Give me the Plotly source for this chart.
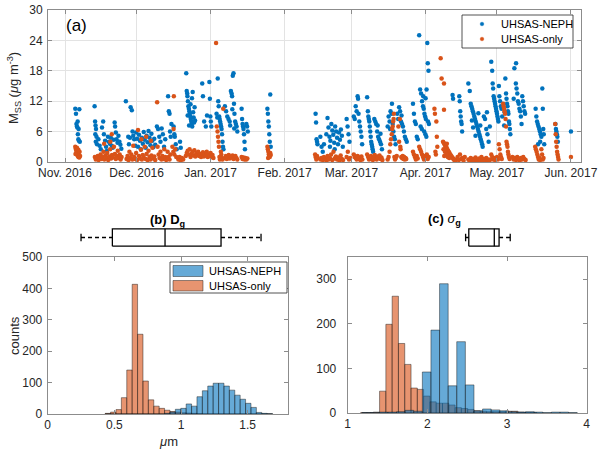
import plotly.graph_objects as go
import pandas as pd

# ---------------- data ----------------
start_date = "2016-11-01"

# (day since start, M_SS) pairs
neph_pts = [
    (4.3,10.5),(4.6,9.5),(4.8,7.5),(5.0,7.0),(5.2,6.8),(5.4,5.5),(5.6,4.5),(5.8,4.2),(6.0,10.4),(5.3,8.0),(5.7,6.5),(6.2,4.0),
    (12.4,11.0),(12.6,8.0),(12.8,7.2),(13.0,6.5),(12.7,5.5),(13.2,5.0),(12.9,4.0),(13.4,3.5),
    (14.0,4.5),(14.5,3.2),(15.0,2.5),(15.5,6.8),(16.0,8.0),(16.3,5.5),(16.8,4.2),(17.2,3.0),(17.6,2.2),(18.0,5.0),
    (18.4,4.0),(18.8,3.6),(19.2,4.8),(19.6,3.2),(20.0,2.8),(20.4,4.4),(20.8,7.8),(21.0,7.0),(21.3,5.8),(21.6,4.5),
    (22.0,3.8),(22.4,5.2),(22.8,4.0),(23.2,3.4),(23.6,2.6),
    (25.5,12.0),(26.5,5.0),(26.8,3.5),(27.2,4.8),(27.5,10.8),(28.0,10.2),(28.3,6.0),(28.6,5.2),(29.0,4.5),(29.4,3.2),
    (29.8,5.8),(30.2,4.6),(30.6,3.0),(31.0,5.4),(31.4,4.2),(31.8,2.5),(32.2,4.8),(32.6,3.6),(33.0,5.9),(33.4,4.4),
    (33.8,2.8),(34.2,5.2),(34.6,3.9),(35.0,6.1),(35.4,4.8),(35.8,3.3),(36.2,5.6),(36.6,4.2),(37.0,2.9),(37.4,4.6),(37.8,3.4),
    (38.5,7.0),(39.0,6.5),(39.5,5.0),(40.0,4.0),(40.5,6.6),(41.0,5.5),(41.5,3.0),(42.0,4.5),
    (43.2,13.0),(43.5,10.0),(43.8,9.5),(44.0,6.0),(44.3,5.0),(44.6,7.5),
    (45.5,7.0),(45.8,5.5),(46.0,5.0),(46.4,3.5),(46.8,2.5),(48.2,4.0),(48.5,2.8),
    (50.8,17.5),(51.0,14.0),(51.2,13.5),(51.3,13.0),(51.5,12.0),(51.7,11.0),(51.9,10.5),(52.1,10.0),(52.3,9.5),(52.5,9.0),
    (52.7,8.5),(52.9,8.0),(53.1,7.5),(53.3,7.0),(53.5,13.8),(53.7,9.8),(53.9,8.8),(54.1,7.8),(54.3,10.8),(54.5,8.2),
    (51.4,9.2),(52.0,7.2),(52.6,11.4),(53.2,12.6),
    (57.5,15.5),(57.8,13.0),(58.3,8.0),(59.0,7.0),(59.5,9.2),
    (60.5,15.8),(60.7,12.5),(60.9,9.0),(61.1,8.0),(61.3,7.0),
    (64.0,16.5),(64.2,12.0),(64.4,11.0),(64.6,9.0),(64.8,8.5),(65.0,8.0),(65.2,7.5),(65.4,7.0),(65.6,6.5),(65.8,5.5),
    (66.0,4.0),(66.2,3.0),(66.4,2.5),(63.5,9.5),(63.8,8.8),
    (67.0,11.0),(67.5,10.0),(68.0,9.0),(68.5,8.5),(69.0,8.0),(69.5,14.0),(69.8,13.5),(70.0,13.0),(70.3,17.0),(70.6,17.5),
    (70.8,11.5),(71.0,9.5),(71.3,8.0),(71.6,7.5),(71.9,7.0),(72.2,6.0),(69.2,7.2),(70.1,10.4),(70.9,6.6),
    (74.0,10.5),(74.2,8.5),(74.4,7.5),(74.6,7.0),(74.8,6.5),(75.0,5.5),(75.2,4.0),(75.4,2.5),
    (76.0,7.5),(76.3,7.0),(76.6,6.0),
    (84.8,10.5),(85.0,9.5),(85.2,8.0),(85.4,7.0),(85.6,5.5),(85.8,4.0),(86.0,13.3),(86.2,3.0),
    (105.0,9.5),(105.2,7.8),(105.4,4.5),(105.6,4.0),(105.8,3.5),
    (107.0,5.0),(107.5,3.0),(108.0,2.0),(108.5,3.5),
    (109.5,5.5),(110.0,8.7),(110.4,6.8),(110.8,5.0),(111.2,4.2),(111.6,7.5),(112.0,6.2),(112.4,5.4),(112.8,3.8),(113.2,7.0),
    (113.6,6.0),(114.0,4.8),(114.4,3.5),(114.8,5.8),(115.2,4.4),(115.6,6.4),(116.0,5.2),(116.4,3.0),(111.0,3.0),(113.0,2.5),
    (118.0,8.5),(118.4,7.0),(118.8,5.5),(119.2,4.0),
    (121.0,9.0),(121.4,8.5),(121.8,11.0),(122.2,10.0),(122.6,13.0),(122.8,12.5),(123.0,9.5),(123.3,8.0),(123.6,7.0),(123.9,6.0),
    (124.2,5.0),(124.5,3.5),
    (126.6,12.8),(126.9,10.0),(127.1,9.0),(127.3,8.5),(127.5,8.0),(127.7,7.0),(127.9,6.0),(128.1,5.0),(128.3,4.0),(128.5,3.5),
    (128.7,3.0),(128.9,2.5),(129.1,2.0),
    (129.6,8.5),(130.0,8.0),(130.4,7.5),(130.8,6.0),(131.2,5.0),(131.6,4.5),(132.0,4.0),(132.4,3.5),(132.8,2.5),(131.0,7.2),(132.2,5.6),
    (135.2,7.0),(135.6,9.0),(136.0,8.0),(136.4,10.0),(136.8,9.5),(137.0,11.5),(137.3,7.5),(137.6,6.0),(137.9,5.0),(138.2,4.5),
    (138.5,3.5),(136.2,6.5),
    (139.2,9.5),(139.6,8.5),(140.0,10.8),(140.4,10.0),(140.8,8.0),(141.2,7.5),(141.6,7.0),(142.0,6.0),(142.4,5.0),(142.8,4.5),
    (143.2,4.0),(141.0,9.2),
    (145.8,11.5),(146.2,9.5),(146.6,8.0),(147.0,7.5),(147.4,5.0),(147.8,4.5),
    (148.4,25.0),(148.8,14.3),(149.2,13.5),(149.6,12.0),(150.0,11.0),(150.3,10.5),(150.6,9.5),(150.9,9.0),(151.2,8.5),(151.5,14.3),
    (151.8,23.5),(152.0,19.5),(152.3,18.0),(152.1,8.0),(152.5,7.5),(149.0,7.0),(149.5,6.5),(150.5,6.0),(151.0,5.5),(151.4,5.0),
    (151.1,12.6),(150.1,13.0),
    (162.4,13.2),(162.6,12.5),
    (165.2,13.0),(165.4,12.0),(165.6,10.0),(165.8,9.0),(166.0,8.0),(166.2,7.5),(166.4,6.0),
    (169.0,15.5),(169.6,14.0),(170.0,11.5),(170.3,11.0),(170.6,10.5),(170.9,10.0),(171.2,9.5),(171.5,9.0),(171.8,8.5),(172.1,8.0),
    (172.4,7.5),(172.7,7.0),(173.0,6.5),(173.3,6.0),(173.6,5.5),(173.9,5.0),(174.2,4.5),(174.5,4.0),(174.8,3.5),(175.0,3.0),
    (170.5,8.2),(171.0,6.8),(172.0,5.2),(173.2,9.6),(174.0,7.2),
    (175.5,9.0),(176.0,8.5),(176.5,6.5),(177.0,5.5),(177.5,4.0),(176.8,9.8),(178.0,7.0),
    (178.6,19.8),(179.0,18.0),(179.2,15.5),(179.4,14.5),(179.6,13.0),(179.8,12.5),(180.0,12.0),(180.2,11.5),(180.4,11.0),(180.6,10.5),
    (180.8,10.0),(181.0,9.5),(181.2,9.0),(181.4,8.5),(181.6,8.0),
    (181.8,15.0),(182.0,13.0),(182.3,12.0),(182.6,11.0),(182.9,10.5),(183.2,9.0),
    (184.5,16.5),(184.8,13.5),(185.0,12.5),(185.2,11.5),(185.4,11.0),(185.6,10.0),(185.8,9.5),(186.0,8.0),(186.2,7.5),(186.4,6.5),
    (186.6,5.5),(184.0,7.2),(184.2,9.8),
    (188.0,12.5),(188.3,18.5),(189.0,19.5),(188.9,15.5),(189.2,14.5),(189.5,13.5),(189.8,12.0),(190.1,11.5),(190.4,10.5),(190.7,10.0),
    (191.0,9.0),(191.3,7.5),
    (191.6,13.0),(191.9,12.0),(192.2,11.0),(192.5,10.0),(192.8,9.5),
    (197.2,10.5),(197.5,9.0),(197.8,8.0),(198.1,7.5),(198.4,7.0),(198.7,6.5),(199.0,6.0),(199.3,5.5),(199.6,5.0),(199.1,4.0),(198.2,3.5),
    (200.0,14.5),(200.2,10.5),(200.4,6.5),(200.6,5.5),(200.8,3.5),
    (205.5,7.5),(205.7,6.5),(205.9,6.0),(206.1,5.5),(206.3,5.0),(206.5,4.0),
    (212.0,6.0),
]

only_pts = [
    (4.3,3.0),(4.5,2.6),(4.7,2.2),(4.9,1.8),(5.1,1.5),(5.3,1.3),(5.5,1.1),(5.7,1.0),(5.9,1.4),(6.1,2.0),(6.3,1.2),(4.4,1.6),(5.0,2.8),(5.6,2.4),(6.0,0.9),
    (12.5,1.0),(12.9,0.5),(13.3,0.7),(13.7,1.2),(14.1,0.4),(14.5,0.8),(14.9,1.5),(15.3,0.6),(15.7,1.0),(16.1,2.0),(16.5,0.5),
    (16.9,1.3),(17.3,0.8),(17.7,1.8),(18.1,0.4),(18.5,1.1),(18.9,2.5),(19.3,0.7),(19.7,1.4),(20.1,0.9),(20.5,3.0),(20.9,1.6),
    (21.3,0.6),(21.7,1.2),(22.1,2.2),(22.5,0.8),(22.9,1.5),(23.3,0.5),(23.7,1.0),(16.4,3.6),(19.0,4.0),(19.6,5.5),
    (25.8,0.6),(26.2,1.2),(26.6,0.4),(27.0,2.0),(27.4,0.8),(27.8,1.5),(28.2,0.5),(28.6,3.2),(29.0,1.0),(29.4,0.6),(29.8,1.8),
    (30.2,0.4),(30.6,6.3),(31.0,1.2),(31.4,0.7),(31.8,2.4),(32.2,0.5),(32.6,1.4),(33.0,0.9),(33.4,3.0),(33.8,0.6),(34.2,1.6),
    (34.6,0.4),(35.0,2.2),(35.4,1.0),(35.8,0.5),(36.2,1.3),(36.6,2.8),(37.0,0.7),(37.4,1.1),(37.8,0.4),(32.0,4.5),(34.0,5.0),(36.0,4.2),
    (38.6,11.8),(38.8,3.0),(39.2,1.5),(39.6,0.8),(40.0,2.0),(40.4,0.5),(40.8,1.2),(41.2,0.6),(41.6,2.5),(42.0,1.0),(42.4,0.4),
    (43.0,2.0),(43.4,1.0),(43.8,0.5),(44.2,1.5),(45.6,13.0),(45.5,6.5),(45.0,3.0),(45.4,2.0),(45.8,1.5),(46.2,2.5),(46.6,1.0),
    (47.5,0.5),(48.0,1.0),(48.5,0.3),(49.0,0.8),(49.5,0.5),
    (50.6,1.2),(51.0,1.8),(51.4,2.2),(51.8,1.5),(52.2,2.5),(52.6,1.0),(53.0,1.6),(53.4,2.0),(53.8,1.3),(54.2,2.3),(54.6,1.1),
    (55.0,1.7),(55.4,1.4),(55.8,2.0),(56.2,1.2),(56.6,1.6),(57.0,1.0),
    (57.4,1.4),(57.8,1.9),(58.2,1.1),(58.6,1.6),(59.0,1.3),(59.4,2.0),(59.8,1.0),(60.2,1.5),(60.6,1.2),(61.0,1.8),(61.4,1.0),
    (61.8,1.4),(62.2,0.8),
    (63.3,23.5),
    (63.6,7.0),(63.9,6.0),(64.1,5.0),(64.3,4.0),(64.5,3.0),(64.7,1.0),(64.9,0.5),(66.3,10.5),(65.3,2.0),(65.5,1.5),(65.7,0.8),(66.0,0.5),
    (67.0,0.8),(67.4,1.2),(67.8,0.6),(68.2,1.0),(68.6,1.4),(69.0,0.7),(69.4,1.1),(69.8,0.9),(70.2,1.3),(70.6,0.6),(71.0,1.0),
    (71.4,1.2),(71.8,0.8),(72.2,0.5),
    (74.0,1.0),(74.4,0.6),(74.8,0.9),(75.2,0.5),(75.6,0.8),(76.0,0.5),(76.4,0.7),
    (84.8,3.0),(85.0,2.5),(85.2,2.0),(85.4,1.5),(85.6,1.2),(85.8,1.0),(86.0,1.8),(86.2,1.4),(85.1,0.8),
    (104.8,1.5),(105.0,1.0),(105.3,0.5),(105.6,1.2),(105.9,0.8),
    (107.0,0.5),(107.5,0.8),(108.0,0.4),(108.5,1.0),(109.0,0.6),(109.5,0.3),(110.0,1.2),(110.5,0.5),(111.0,0.8),(111.5,1.5),
    (112.0,0.4),(112.5,2.0),(113.0,0.7),(113.5,1.1),(114.0,0.5),(114.5,0.9),(115.0,0.3),(115.5,1.3),(116.0,0.6),(116.5,0.4),
    (118.0,1.0),(118.5,2.0),(119.0,0.5),(119.5,0.8),
    (121.0,1.5),(121.4,1.0),(121.8,0.8),(122.2,0.5),(122.6,1.2),(123.0,0.6),(123.4,0.9),(123.8,0.4),(124.2,1.1),(124.6,0.5),
    (126.6,1.5),(127.0,1.0),(127.4,0.5),(127.8,0.8),(128.2,1.2),(128.6,0.6),(129.0,0.4),(129.4,1.0),(129.8,1.4),(130.2,0.7),
    (130.6,0.5),(131.0,1.1),(131.4,0.8),(131.8,1.3),(132.2,0.6),(132.6,0.9),(133.0,0.4),
    (135.2,0.5),(135.6,1.0),(136.0,2.0),(136.3,3.5),(136.6,4.5),(136.9,5.5),(137.1,6.5),(137.3,7.0),(137.5,8.0),(137.7,8.5),
    (137.8,9.5),(138.0,1.0),(138.3,0.5),(138.6,0.8),(139.0,1.2),
    (140.3,8.5),(139.7,7.0),(140.0,4.0),(140.5,3.0),(140.6,2.5),(140.9,1.0),(141.2,0.8),(141.5,1.2),(141.8,0.6),(142.1,1.0),
    (142.4,0.5),(142.7,0.8),(143.0,0.6),
    (145.8,2.0),(146.2,1.5),(146.6,1.0),(147.0,0.5),(147.4,1.2),(147.8,0.7),
    (148.4,3.0),(148.8,2.5),(149.2,2.0),(149.6,1.5),(150.0,1.0),(150.4,0.5),(150.8,1.2),(151.2,0.8),(151.6,1.5),(152.0,0.6),(152.4,1.0),
    (154.8,10.5),(155.0,9.5),(155.2,2.0),(155.4,1.5),(155.6,8.0),(155.8,5.0),(156.0,3.0),(157.4,20.5),(157.8,16.5),(158.8,15.5),(158.8,10.3),
    (158.4,4.0),(158.7,3.8),(159.0,3.5),(159.3,3.2),(159.6,3.0),(159.9,2.8),(160.2,2.5),(160.5,2.2),(160.8,2.0),(161.1,1.8),
    (161.4,1.5),(161.7,1.3),(162.0,1.1),(162.3,0.9),(162.6,0.7),(162.9,0.5),(163.2,0.4),(163.5,0.3),(158.6,2.5),(159.2,2.0),
    (159.8,1.5),(160.4,1.0),(161.0,0.8),(158.9,1.2),(160.0,3.6),
    (164.0,0.5),(164.5,1.0),(165.0,0.4),(165.5,1.5),(166.0,0.6),(166.5,0.8),(167.0,0.3),(167.5,1.0),
    (169.0,0.5),(169.5,0.3),(170.0,0.8),(170.5,0.4),(171.0,0.6),(171.5,0.3),(172.0,0.9),(172.5,0.5),(173.0,0.3),(173.5,0.7),
    (174.0,0.4),(174.5,1.0),(175.0,0.3),(175.5,0.6),(176.0,0.4),(176.5,0.8),(177.0,0.3),(177.5,0.5),(178.0,0.4),
    (178.6,1.5),(179.0,1.0),(179.4,0.5),(179.8,0.8),(180.2,0.4),(180.6,0.6),(181.0,1.0),(181.4,0.5),(181.8,3.5),(182.1,2.5),
    (182.4,1.5),(182.7,1.0),(183.0,0.6),
    (183.6,11.5),(183.8,11.0),(184.0,10.5),(184.2,10.0),(184.4,9.5),(184.6,8.5),(184.8,7.0),(185.0,4.0),(185.2,3.5),(185.4,3.0),
    (185.6,2.0),(185.8,1.5),(186.0,1.0),(186.3,0.6),
    (187.5,1.0),(188.0,0.5),(188.5,0.8),(189.0,0.4),(189.5,1.0),(190.0,0.6),(190.5,0.3),(191.0,0.8),(191.5,0.5),(192.0,1.0),
    (192.5,0.6),(193.0,0.4),
    (197.0,3.0),(197.3,2.5),(197.6,2.0),(197.9,1.5),(198.2,1.0),(198.5,0.5),(198.8,0.8),(199.1,0.4),(199.6,2.5),(199.9,1.5),
    (200.2,0.5),(200.5,0.8),
    (205.4,7.5),(205.6,5.5),(205.8,4.0),(206.0,3.0),(206.2,2.0),(206.4,1.5),(206.6,1.0),(206.8,0.5),
    (212.0,1.0),
]

month_ticks = ["2016-11-01", "2016-12-01", "2017-01-01", "2017-02-01",
               "2017-03-01", "2017-04-01", "2017-05-01", "2017-06-01"]
month_labels = ["Nov. 2016", "Dec. 2016", "Jan. 2017", "Feb. 2017",
                "Mar. 2017", "Apr. 2017", "May. 2017", "Jun. 2017"]
time_range = ["2016-10-24 21:00", "2017-06-05 05:00"]
mss_ticks = [0, 6, 12, 18, 24, 30]
series_names = ["UHSAS-NEPH", "UHSAS-only"]

# (b) D_g histograms (common bin grid)
dg_bin_start = 0.431
dg_bin_width = 0.0405
dg_only_counts = [2, 6, 14, 52, 140, 413, 254, 105, 45, 25, 18, 12, 8, 6, 4, 3, 2, 1,
                  0, 0, 0, 0, 0, 0, 0, 0, 0, 0, 0, 0, 0]
dg_neph_counts = [0, 0, 0, 0, 0, 0, 0, 0, 0, 0, 0, 2, 6, 15, 18, 32, 25, 55, 74, 89,
                  98, 98, 89, 76, 60, 47, 34, 21, 5, 2, 1]
dg_box = [0.25, 0.485, 0.88, 1.30, 1.60]   # lower whisker, q1, median, q3, upper whisker

# (c) sigma_g histograms
sg_only_start = 1.163
sg_only_width = 0.079
sg_only_counts = [1, 1, 2, 49, 199, 262, 156, 109, 56, 53, 38, 25, 22, 22, 18, 12, 10, 8,
                  5, 4, 3, 3, 3, 4, 4, 2, 1, 1]
sg_neph_start = 1.181
sg_neph_width = 0.108
sg_neph_counts = [1, 1, 2, 2, 3, 6, 4, 92, 186, 290, 61, 160, 63, 5, 9, 7, 5, 3, 2, 3,
                  2, 1, 2, 2, 1]
sg_box = [2.48, 2.52, 2.84, 2.90, 3.04]

# ---------------- styling ----------------
BLUE = "rgb(0,114,189)"
ORANGE = "rgb(217,83,25)"
BLUE_FACE = "rgba(0,114,189,0.6)"
ORANGE_FACE = "rgba(217,83,25,0.62)"
EDGE = "rgba(20,20,20,0.75)"
AXC = "#8c8c8c"
TXT = "#262626"
FONT = "Liberation Sans, Arial, Helvetica, sans-serif"
W, H = 600, 450


def px(x):
    return x / W


def py(y):
    return 1 - y / H


start = pd.Timestamp(start_date)
neph_t = [start + pd.Timedelta(days=d) for d, _ in neph_pts]
neph_v = [v for _, v in neph_pts]
only_t = [start + pd.Timedelta(days=d) for d, _ in only_pts]
only_v = [v for _, v in only_pts]

fig = go.Figure()

# panel (a)
fig.add_trace(go.Scatter(x=neph_t, y=neph_v, mode="markers", name=series_names[0],
                         marker=dict(color=BLUE, size=4.5), xaxis="x", yaxis="y",
                         showlegend=False))
fig.add_trace(go.Scatter(x=only_t, y=only_v, mode="markers", name=series_names[1],
                         marker=dict(color=ORANGE, size=4.5), xaxis="x", yaxis="y",
                         showlegend=False))


def bars(start_edge, width, counts, face, xa, ya):
    centers = [start_edge + width * (i + 0.5) for i in range(len(counts))]
    return go.Bar(x=centers, y=counts, width=width, xaxis=xa, yaxis=ya,
                  marker=dict(color=face, line=dict(color=EDGE, width=0.6)),
                  showlegend=False, hoverinfo="skip")


# panel (b)
fig.add_trace(bars(dg_bin_start, dg_bin_width, dg_only_counts, ORANGE_FACE, "x3", "y3"))
fig.add_trace(bars(dg_bin_start, dg_bin_width, dg_neph_counts, BLUE_FACE, "x3", "y3"))
# panel (c)
fig.add_trace(bars(sg_only_start, sg_only_width, sg_only_counts, ORANGE_FACE, "x5", "y5"))
fig.add_trace(bars(sg_neph_start, sg_neph_width, sg_neph_counts, BLUE_FACE, "x5", "y5"))


def boxplot(stats, xa, ya):
    lo, q1, med, q3, hi = stats
    hb, hc = 0.64, 0.28
    solid = go.Scatter(
        x=[q1, q3, q3, q1, q1, None, med, med, None, lo, lo, None, hi, hi],
        y=[-hb, -hb, hb, hb, -hb, None, -hb, hb, None, -hc, hc, None, -hc, hc],
        mode="lines", line=dict(color="black", width=1.3), xaxis=xa, yaxis=ya,
        showlegend=False, hoverinfo="skip")
    dashed = go.Scatter(
        x=[lo, q1, None, q3, hi], y=[0, 0, None, 0, 0],
        mode="lines", line=dict(color="black", width=1.3, dash="4px,3px"),
        xaxis=xa, yaxis=ya, showlegend=False, hoverinfo="skip")
    return [solid, dashed]


for tr in boxplot(dg_box, "x2", "y2"):
    fig.add_trace(tr)
for tr in boxplot(sg_box, "x4", "y4"):
    fig.add_trace(tr)

axis_common = dict(linecolor=AXC, linewidth=1, mirror="ticks", ticks="inside",
                   ticklen=4, tickcolor=AXC, zeroline=False, showgrid=False,
                   tickfont=dict(size=12, color=TXT), fixedrange=True,
                   automargin=False, showline=True, ticklabeloverflow="allow")

dom_b = [px(47.7), px(287.7)]
dom_c = [px(347.7), px(586.7)]
box_dom = [py(251), py(224)]

fig.update_layout(
    template="none",
    width=W, height=H, margin=dict(l=0, r=0, t=0, b=0, pad=0, autoexpand=False),
    paper_bgcolor="white", plot_bgcolor="white",
    font=dict(family=FONT, size=12, color=TXT),
    barmode="overlay", bargap=0, showlegend=False, hovermode=False,
    xaxis=dict(axis_common, type="date", domain=[px(48), px(581)], range=time_range,
               tickvals=month_ticks, ticktext=month_labels, tickangle=0,
               showgrid=True, gridcolor="#e3e3e3", gridwidth=1, anchor="y"),
    yaxis=dict(axis_common, domain=[py(162), py(10)], range=[0, 30], tickvals=mss_ticks,
               showgrid=True, gridcolor="#e3e3e3", gridwidth=1, anchor="x",
               ticklabelstandoff=2),
    xaxis2=dict(domain=dom_b, range=[0, 1.8], visible=False, anchor="y2", fixedrange=True),
    yaxis2=dict(domain=box_dom, range=[-1, 1], visible=False, anchor="x2", fixedrange=True),
    xaxis3=dict(axis_common, domain=dom_b, range=[0, 1.8], tickvals=[0, 0.5, 1, 1.5],
                ticktext=["0", "0.5", "1", "1.5"], anchor="y3"),
    yaxis3=dict(axis_common, domain=[py(414), py(257)], range=[0, 500],
                tickvals=[0, 100, 200, 300, 400, 500], anchor="x3", ticklabelstandoff=2),
    xaxis4=dict(domain=dom_c, range=[1, 4], visible=False, anchor="y4", fixedrange=True),
    yaxis4=dict(domain=box_dom, range=[-1, 1], visible=False, anchor="x4", fixedrange=True),
    xaxis5=dict(axis_common, domain=dom_c, range=[1, 4], tickvals=[1, 2, 3, 4], anchor="y5"),
    yaxis5=dict(axis_common, domain=[py(413), py(257)], range=[0, 350],
                tickvals=[0, 100, 200, 300], anchor="x5", ticklabelstandoff=8),
)

annotations = [
    dict(text="(a)", x=px(64), y=py(25), xanchor="left", yanchor="middle",
         font=dict(size=17, color="black")),
    dict(text="M<sub>SS</sub> (<i>μ</i>g m<sup>-3</sup>)", x=px(14), y=py(88),
         textangle=-90, xanchor="center", yanchor="middle", font=dict(size=13, color=TXT)),
    dict(text="<b>(b) D<sub>g</sub></b>", x=px(167), y=py(220), xanchor="center",
         yanchor="middle", font=dict(size=13, color="black")),
    dict(text="<b>(c)</b> <i>σ</i><sub><b>g</b></sub>", x=px(444), y=py(219),
         xanchor="center", yanchor="middle", font=dict(size=13, color="black")),
    dict(text="counts", x=px(14), y=py(336), textangle=-90, xanchor="center",
         yanchor="middle", font=dict(size=13, color=TXT)),
    dict(text="<i>μ</i>m", x=px(168), y=py(441), xanchor="center", yanchor="middle",
         font=dict(size=13, color=TXT)),
    # legend (a)
    dict(text=series_names[0], x=px(499), y=py(24), xanchor="left", yanchor="middle",
         font=dict(size=11, color="black")),
    dict(text=series_names[1], x=px(499), y=py(39), xanchor="left", yanchor="middle",
         font=dict(size=11, color="black")),
    # legend (b)
    dict(text=series_names[0], x=px(207), y=py(271), xanchor="left", yanchor="middle",
         font=dict(size=11, color="black")),
    dict(text=series_names[1], x=px(207), y=py(286), xanchor="left", yanchor="middle",
         font=dict(size=11, color="black")),
]
for a in annotations:
    a.update(xref="paper", yref="paper", showarrow=False)
fig.update_layout(annotations=annotations)

shapes = [
    # legend (a)
    dict(type="rect", x0=px(462), x1=px(573), y0=py(48), y1=py(15),
         line=dict(color=TXT, width=0.8), fillcolor="white", layer="above"),
    dict(type="circle", x0=px(480.2), x1=px(483.8), y0=py(25.8), y1=py(22.2),
         line=dict(color=BLUE, width=0.5), fillcolor=BLUE, layer="above"),
    dict(type="circle", x0=px(480.2), x1=px(483.8), y0=py(40.8), y1=py(37.2),
         line=dict(color=ORANGE, width=0.5), fillcolor=ORANGE, layer="above"),
    # legend (b)
    dict(type="rect", x0=px(170), x1=px(287), y0=py(293), y1=py(262),
         line=dict(color=TXT, width=0.8), fillcolor="white", layer="above"),
    dict(type="rect", x0=px(173), x1=px(203), y0=py(276.5), y1=py(265.5),
         line=dict(color=EDGE, width=0.6), fillcolor=BLUE_FACE, layer="above"),
    dict(type="rect", x0=px(173), x1=px(203), y0=py(291), y1=py(280.5),
         line=dict(color=EDGE, width=0.6), fillcolor=ORANGE_FACE, layer="above"),
]
for s in shapes:
    s.update(xref="paper", yref="paper")
fig.update_layout(shapes=shapes)

# the page is shown at exactly 600x450, so drop the browser's default body margin
fig.write_html("out.html", config={"displayModeBar": False, "staticPlot": True},
               post_script="document.body.style.margin='0px';")
